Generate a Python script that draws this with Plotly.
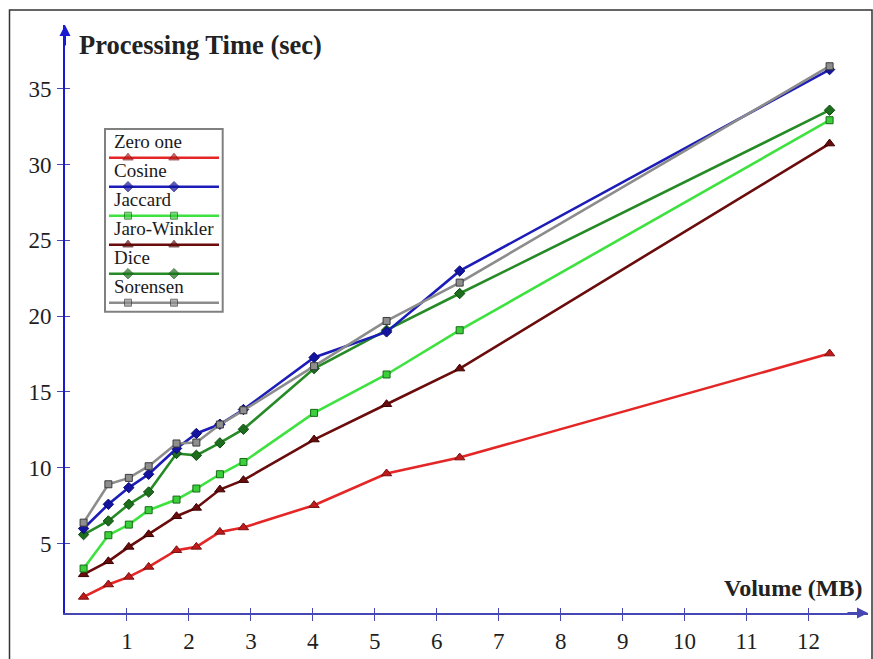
import plotly.graph_objects as go

# ---- data ----
volume_mb = [0.3, 0.7, 1.03, 1.35, 1.8, 2.12, 2.5, 2.88, 4.02, 5.19, 6.37, 12.34]
zero_one = [1.48, 2.30, 2.80, 3.46, 4.56, 4.78, 5.77, 6.06, 7.53, 9.62, 10.67, 17.53]
cosine = [5.99, 7.59, 8.69, 9.57, 11.27, 12.26, 12.87, 13.84, 17.27, 18.96, 22.98, 36.26]
jaccard = [3.35, 5.55, 6.25, 7.20, 7.90, 8.63, 9.57, 10.38, 13.62, 16.15, 19.07, 32.92]
jaro_winkler = [2.97, 3.83, 4.78, 5.61, 6.80, 7.35, 8.56, 9.18, 11.86, 14.19, 16.54, 31.38]
dice = [5.59, 6.49, 7.59, 8.40, 10.94, 10.82, 11.64, 12.54, 16.54, 19.07, 21.49, 33.58]
sorensen = [6.38, 8.91, 9.33, 10.10, 11.60, 11.66, 12.85, 13.79, 16.70, 19.68, 22.21, 36.48]

series_names = ["Zero one", "Cosine", "Jaccard", "Jaro-Winkler", "Dice", "Sorensen"]
series_values = [zero_one, cosine, jaccard, jaro_winkler, dice, sorensen]
x_ticks = list(range(1, 13))
y_ticks = [5, 10, 15, 20, 25, 30, 35]

# ---- styles ----
styles = {
    "Zero one": dict(line="#e42626", symbol="triangle-up", fill="#c01a1a", edge="#7a1010", size=9),
    "Cosine": dict(line="#1c1cb8", symbol="diamond", fill="#1414a0", edge="#0a0a70", size=8),
    "Jaccard": dict(line="#3ee23e", symbol="square", fill="#3ccf3c", edge="#156a15", size=7),
    "Jaro-Winkler": dict(line="#6a0c0c", symbol="triangle-up", fill="#6a0c0c", edge="#3a0000", size=9),
    "Dice": dict(line="#268a26", symbol="diamond", fill="#1c6e1c", edge="#0e4a0e", size=8),
    "Sorensen": dict(line="#8c8c8c", symbol="square", fill="#8e8e8e", edge="#3c3c3c", size=7),
}
draw_order = ["Zero one", "Jaro-Winkler", "Jaccard", "Dice", "Cosine", "Sorensen"]

W, H = 873, 659
L, R, T, B = 65, 5, 25, 46
PW, PH = W - L - R, H - T - B
X_RANGE = [0, 12.96]
Y_RANGE = [0.42, 39.2]
SERIF = "Liberation Serif, Times New Roman, serif"


def px_x(p):
    return (p - L) / PW


def px_y(p):
    return 1 - (p - T) / PH


fig = go.Figure()
for name in draw_order:
    s = styles[name]
    vals = series_values[series_names.index(name)]
    fig.add_trace(go.Scatter(
        x=volume_mb, y=vals, name=name, mode="lines+markers",
        line=dict(color=s["line"], width=2.6),
        marker=dict(symbol=s["symbol"], size=s["size"], color=s["fill"],
                    line=dict(color=s["edge"], width=1)),
        showlegend=False, cliponaxis=False,
    ))

# invisible traces to activate overlay axes (for crossing ticks)
fig.add_trace(go.Scatter(x=[], y=[], xaxis="x2", yaxis="y", showlegend=False, hoverinfo="skip"))
fig.add_trace(go.Scatter(x=[], y=[], xaxis="x", yaxis="y2", showlegend=False, hoverinfo="skip"))

# ---- custom legend (text above a line sample) ----
LEG = dict(x0=105, x1=222.7, y0=129, y1=311.7)
leg_text_y0, leg_line_y0, leg_step = 141, 157.7, 29.0
for i, name in enumerate(series_names):
    s = styles[name]
    ly = leg_line_y0 + i * leg_step
    fig.add_trace(go.Scatter(
        x=[109, 128, 174, 219], y=[ly] * 4, xaxis="x3", yaxis="y3",
        mode="lines+markers", showlegend=False, hoverinfo="skip",
        line=dict(color=s["line"], width=2.6),
        marker=dict(symbol=s["symbol"], size=[0, s["size"], s["size"], 0], color=s["fill"],
                    line=dict(color=s["edge"], width=[0, 1, 1, 0])),
        cliponaxis=False,
    ))
    fig.add_annotation(xref="x3", yref="y3", x=112, y=leg_text_y0 + i * leg_step,
                       text=name, showarrow=False, xanchor="left", yanchor="middle",
                       font=dict(family=SERIF, size=19, color="#1a1a1a"))

fig.add_shape(type="rect", xref="x3", yref="y3", x0=LEG["x0"], x1=LEG["x1"],
              y0=LEG["y0"], y1=LEG["y1"], line=dict(color="#808080", width=2),
              fillcolor="rgba(0,0,0,0)", layer="above")

axis_blue_y = "#1a1ad0"
axis_blue_x = "#4646b4"

fig.update_layout(
    width=W, height=H,
    margin=dict(l=L, r=R, t=T, b=B, autoexpand=False),
    paper_bgcolor="white", plot_bgcolor="rgba(0,0,0,0)",
    showlegend=False,
    xaxis=dict(range=X_RANGE, tickvals=x_ticks, ticks="outside", ticklen=6, tickwidth=1.2,
               tickcolor=axis_blue_x, showline=True, linecolor=axis_blue_x, linewidth=2,
               showgrid=False, zeroline=False, ticklabelstandoff=0, automargin=False,
               tickfont=dict(family=SERIF, size=23, color="#1e1e1e")),
    yaxis=dict(range=Y_RANGE, tickvals=y_ticks, ticks="outside", ticklen=6, tickwidth=1.2,
               tickcolor=axis_blue_x, showline=True, linecolor=axis_blue_y, linewidth=2,
               showgrid=False, zeroline=False, ticklabelstandoff=1, automargin=False,
               tickfont=dict(family=SERIF, size=23, color="#1e1e1e")),
    xaxis2=dict(range=X_RANGE, tickvals=x_ticks, overlaying="x", anchor="y", ticks="inside",
                ticklen=5, tickwidth=1.2, tickcolor=axis_blue_x, showticklabels=False,
                showline=False, showgrid=False, zeroline=False),
    yaxis2=dict(range=Y_RANGE, tickvals=y_ticks, overlaying="y", anchor="x", ticks="inside",
                ticklen=5, tickwidth=1.2, tickcolor=axis_blue_x, showticklabels=False,
                showline=False, showgrid=False, zeroline=False),
    xaxis3=dict(domain=[px_x(100), px_x(228)], range=[100, 228], anchor="y3", visible=False),
    yaxis3=dict(domain=[px_y(316), px_y(124)], range=[316, 124], anchor="x3", visible=False),
)

# frame around the whole picture
fig.add_shape(type="rect", xref="paper", yref="paper",
              x0=px_x(9.5), x1=px_x(872), y0=px_y(680), y1=px_y(10),
              line=dict(color="#333333", width=1.5), fillcolor="rgba(0,0,0,0)")

# axis arrowheads
fig.add_annotation(xref="paper", yref="paper", x=0, y=1, ax=0, ay=22, text="",
                   showarrow=True, arrowhead=2, arrowsize=1.1, arrowwidth=2,
                   arrowcolor=axis_blue_y)
fig.add_annotation(xref="paper", yref="paper", x=1, y=0, ax=-22, ay=0, text="",
                   showarrow=True, arrowhead=2, arrowsize=1.1, arrowwidth=2,
                   arrowcolor=axis_blue_x)

# axis titles
fig.add_annotation(xref="paper", yref="paper", x=px_x(77), y=px_y(45),
                   text="<b>Processing Time (sec)</b>", showarrow=False,
                   xanchor="left", yanchor="middle",
                   font=dict(family=SERIF, size=26.5, color="#222222"))
fig.add_annotation(xref="paper", yref="paper", x=px_x(864), y=px_y(588),
                   text="<b>Volume (MB)</b>", showarrow=False,
                   xanchor="right", yanchor="middle",
                   font=dict(family=SERIF, size=24, color="#222222"))

fig.write_html("out.html", config={"displayModeBar": False},
               post_script="document.body.style.margin='0';document.body.style.overflow='hidden';")
